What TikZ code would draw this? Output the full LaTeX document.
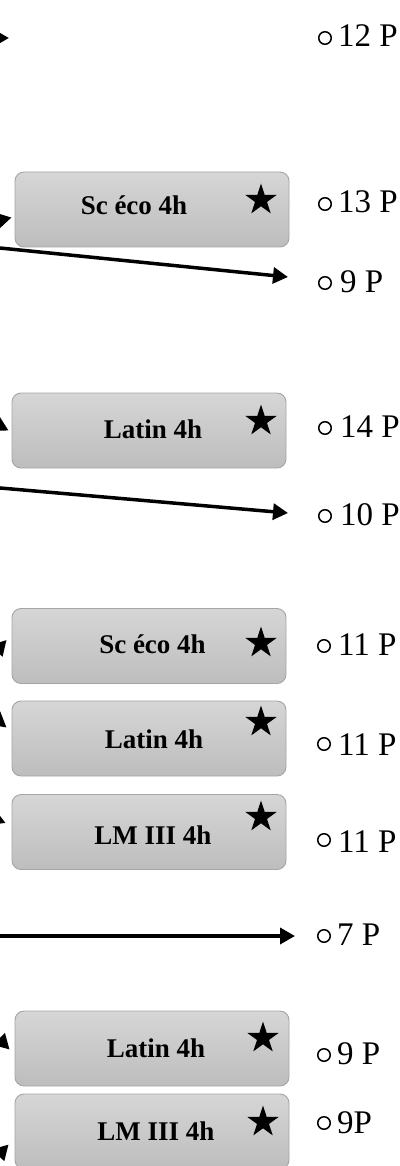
\documentclass[tikz,border=0pt]{standalone}
\usepackage{fontspec}
\setmainfont{Liberation Serif}
\usetikzlibrary{shapes.geometric,arrows.meta,calc}
\definecolor{boxtop}{RGB}{214,214,214}
\definecolor{boxbot}{RGB}{189,189,189}
\definecolor{boxline}{RGB}{165,165,165}
\begin{document}
\begin{tikzpicture}[x=1pt,y=-1pt,
  boxst/.style={draw=boxline, line width=0.9pt, rounded corners=9pt, top color=boxtop, bottom color=boxbot, minimum width=274pt, minimum height=75pt, inner sep=0pt},
  boxtxt/.style={anchor=base, inner sep=0pt, font=\fontsize{27}{32}\selectfont\bfseries},
  starst/.style={star, star points=5, star point ratio=2.618, fill=black, draw=none, minimum size=33pt, inner sep=0pt},
  lab/.style={anchor=base west, inner sep=0pt, font=\fontsize{33}{39}\selectfont},
  bul/.style={circle, draw=black, line width=1.5pt, minimum size=12.5pt, inner sep=0pt},
  arr/.style={line width=3.5pt, -{Triangle[length=15pt,width=16pt]}}]
\useasboundingbox (0,0) rectangle (399,1166);
\clip (0,0) rectangle (399,1166);

% boxes
\node[boxst] (b1) at (152,209.5) {};
\node[boxst] (b2) at (149,430.5) {};
\node[boxst] (b3) at (149,646) {};
\node[boxst] (b4) at (149,738.5) {};
\node[boxst] (b5) at (149,832) {};
\node[boxst] (b6) at (152,1048.5) {};
\node[boxst] (b7) at (152,1131.5) {};

\node[boxtxt] (b1t) at (134,215) {Sc éco 4h};
\node[boxtxt] (b2t) at (153,438) {Latin 4h};
\node[boxtxt] (b3t) at (152.5,653) {Sc éco 4h};
\node[boxtxt] (b4t) at (154,748) {Latin 4h};
\node[boxtxt] (b5t) at (153,844) {LM III 4h};
\node[boxtxt] (b6t) at (156,1057) {Latin 4h};
\node[boxtxt] (b7t) at (156,1140) {LM III 4h};

\node[starst] (st1) at (261,200) {};
\node[starst] (st2) at (261,421) {};
\node[starst] (st3) at (261,643) {};
\node[starst] (st4) at (261,722) {};
\node[starst] (st5) at (261,817) {};
\node[starst] (st6) at (263,1038) {};
\node[starst] (st7) at (263,1122) {};

% labels
\node[bul] (c1) at (325,38) {};   \node[lab] (l1) at (338,47) {12 P};
\node[bul] (c2) at (325,204) {};  \node[lab] (l2) at (338,213) {13 P};
\node[bul] (c3) at (325,283) {};  \node[lab] (l3) at (340,292) {9 P};
\node[bul] (c4) at (325,428) {};  \node[lab] (l4) at (340,437) {14 P};
\node[bul] (c5) at (325,516) {};  \node[lab] (l5) at (340,525) {10 P};
\node[bul] (c6) at (324,646) {};  \node[lab] (l6) at (338,655) {11 P};
\node[bul] (c7) at (324,744) {};  \node[lab] (l7) at (338,755) {11 P};
\node[bul] (c8) at (324,840) {};  \node[lab] (l8) at (338,852) {11 P};
\node[bul] (c9) at (324,936) {};  \node[lab] (l9) at (337,945) {7 P};
\node[bul] (c10) at (324,1055) {}; \node[lab] (l10) at (337,1064) {9 P};
\node[bul] (c11) at (324,1123) {}; \node[lab] (l11) at (337,1133) {9P};

% connector ends
\coordinate (s0) at (-80,38);
\coordinate (e0) at (9,38);
\coordinate (s1) at (-60,234);
\coordinate (s1b) at (-40,244);
\coordinate (s2) at (-40,405);
\coordinate (s2b) at (-40,484.5);
\coordinate (s3) at (-40,690);
\coordinate (s5) at (-120,770);
\coordinate (s7p) at (-40,936);
\coordinate (s6) at (-40,1000);
\coordinate (s7) at (-40,1195);

\draw[arr] (s0) -- (e0);
\draw[arr] (s1) -- ($(b1.west)+(-3,8)$);
\draw[arr] (s1b) -- ($(c3.center)+(-37,-6)$);
\draw[arr] (s2) -- ($(b2.west)+(-3,0)$);
\draw[arr] (s2b) -- ($(c5.center)+(-37,-3)$);
\draw[arr] (s3) -- ($(b3.west)+(-5,-6)$);
\draw[arr] (s3) -- ($(b4.west)+(-5,-11)$);
\draw[arr] (s5) -- ($(b5.west)+(-6,-9)$);
\draw[arr] (s7p) -- ($(c9.center)+(-29,0)$);
\draw[arr] (s6) -- ($(b6.west)+(-5,1)$);
\draw[arr] (s7) -- ($(b7.west)+(-6,13)$);
\end{tikzpicture}
\end{document}
